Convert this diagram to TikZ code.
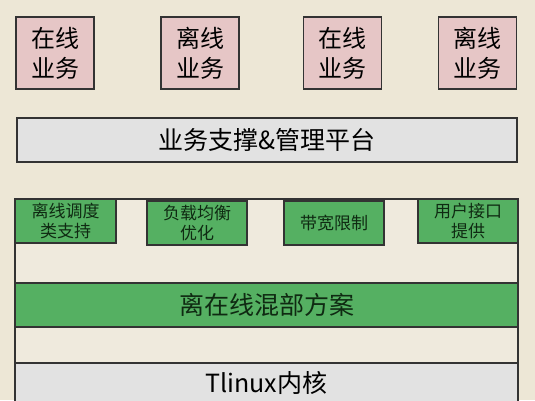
\documentclass[tikz,border=0pt]{standalone}
\usepackage{fontspec}
\setmainfont{Noto Sans CJK SC}
\usepackage{tikz}
\definecolor{bgbeige}{HTML}{EDE7D6}
\definecolor{framebeige}{HTML}{EFEADD}
\definecolor{bizpink}{HTML}{E6C6C6}
\definecolor{platgray}{HTML}{E2E2E2}
\definecolor{mixgreen}{HTML}{55B062}
\definecolor{inkgreen}{HTML}{0F2A12}
\tikzset{
  box/.style={draw=black!80,line width=1.2pt,inner sep=0pt,align=center},
  bizbox/.style={box,fill=bizpink,minimum width=78pt,minimum height=72pt,
    font=\fontsize{24}{30}\selectfont},
  barbox/.style={box,minimum width=503pt,minimum height=44pt,
    font=\fontsize{25}{28}\selectfont},
  featbox/.style={box,fill=mixgreen,minimum width=100pt,minimum height=44pt,
    text=inkgreen,font=\fontsize{17}{20}\selectfont}
}
\begin{document}
\begin{tikzpicture}[x=1pt,y=-1pt]
        \useasboundingbox [fill=bgbeige] (0,0) rectangle (535,400);
        %
        \node [bizbox] (online1)  at (55,53)    {在线\\业务};
        \node [bizbox] (offline1) at (200,53)   {离线\\业务};
        \node [bizbox] (online2)  at (342.5,53) {在线\\业务};
        \node [bizbox] (offline2) at (477.5,53) {离线\\业务};
        %
        \node [barbox,fill=platgray,minimum width=500pt] (platform) at (267,140) {业务支撑\&管理平台};
        %
        \draw [line width=1.2pt,draw=black!80,fill=framebeige] (15,199) rectangle (518,410);
        %
        \node [featbox,minimum width=101pt] (sched) at (65.5,221) {离线调度\\类支持};
        \node [featbox] (balance) at (197,223)  {负载均衡\\优化};
        \node [featbox] (bandw)   at (334,223)  {带宽限制};
        \node [featbox] (userapi) at (468,221)  {用户接口\\提供};
        %
        \node [barbox,fill=mixgreen,text=inkgreen] (mix) at (266.5,305) {离在线混部方案};
        \node [barbox,fill=platgray,minimum height=40pt] (kernel) at (266.5,383) {Tlinux内核};
      \end{tikzpicture}
\end{document}
